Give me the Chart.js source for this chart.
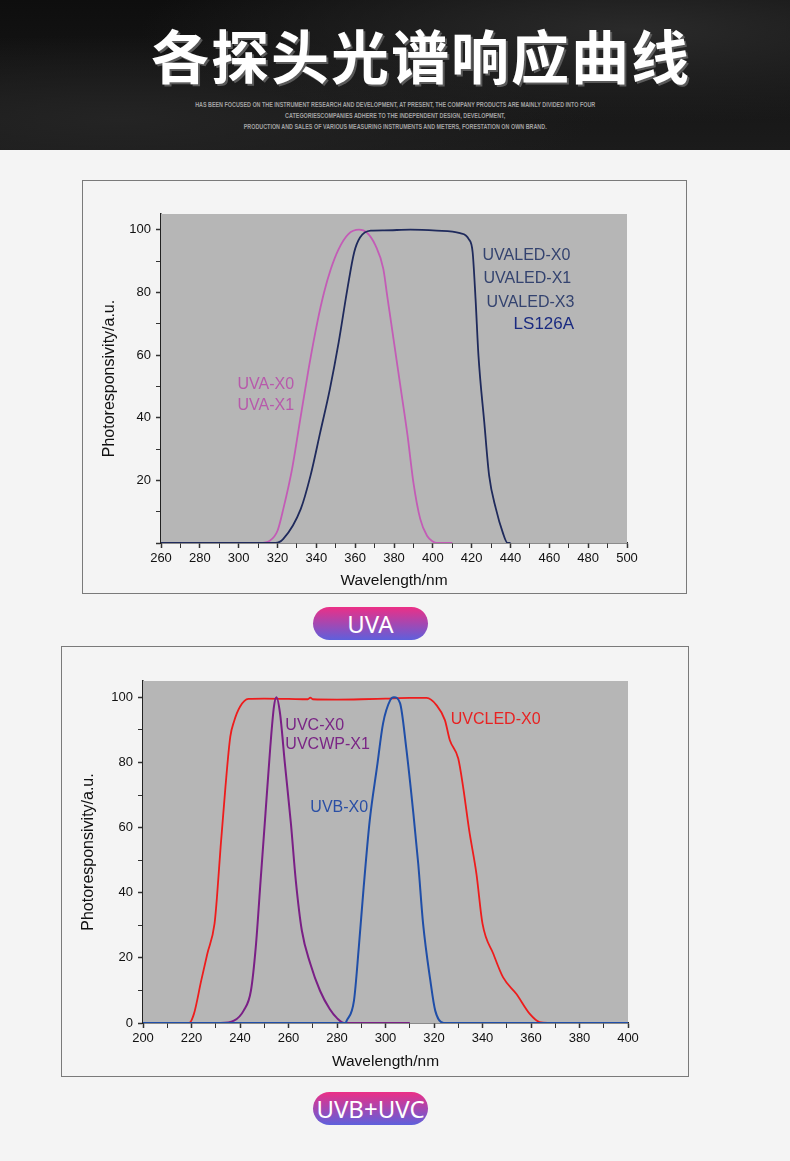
<!DOCTYPE html>
<html>
<head>
<meta charset="utf-8">
<script src="https://cdn.jsdelivr.net/npm/chart.js@4/dist/chart.umd.min.js"></script>
<style>
  body { margin: 0; width: 790px; height: 1161px; background: #f4f4f4; position: relative; overflow: hidden; font-family: "Liberation Sans", Arial, sans-serif; }
  #header { position: absolute; left: 0; top: 0; width: 790px; height: 150px;
    background: radial-gradient(ellipse at 80% 20%, #2a2a2a 0%, rgba(30,30,30,0) 55%),
                radial-gradient(ellipse at 15% 80%, #242424 0%, rgba(30,30,30,0) 50%),
                linear-gradient(#0e0e0e, #1b1b1b); }
  #title { position: absolute; left: 52px; right: 0; top: 24px; text-align: center; color: #fff;
    font-family: "Noto Sans CJK SC", sans-serif; font-weight: 700; font-size: 58px; line-height: 60px;
    letter-spacing: 2px; text-shadow: 2px 2px 0 #5a5a5a; }
  #sub { position: absolute; left: 0; width: 790px; top: 99px; text-align: center; color: #a2a2a2;
    font-family: "Liberation Sans", sans-serif; font-weight: 700;
    font-size: 6.5px; line-height: 11px; transform: scaleX(0.83); transform-origin: 396px 0; }
  .box { position: absolute; border: 1px solid #7a7a7a; background: #f4f4f4; }
  .box canvas { display: block; }
  .pill { position: absolute; left: 313px; width: 115px; height: 33px; border-radius: 17px;
    background: linear-gradient(#ec2f86, #5e60dc); color: #fff; text-align: center;
    font-family: "Noto Sans", sans-serif; font-size: 24px; line-height: 33px; }
</style>
</head>
<body>
<div id="header">
  <div id="title">各探头光谱响应曲线</div>
  <div id="sub">HAS BEEN FOCUSED ON THE INSTRUMENT RESEARCH AND DEVELOPMENT, AT PRESENT, THE COMPANY PRODUCTS ARE MAINLY DIVIDED INTO FOUR<br>CATEGORIESCOMPANIES ADHERE TO THE INDEPENDENT DESIGN, DEVELOPMENT,<br>PRODUCTION AND SALES OF VARIOUS MEASURING INSTRUMENTS AND METERS, FORESTATION ON OWN BRAND.</div>
</div>

<div class="box" style="left:82px; top:180px;"><canvas id="uvaChart" width="603" height="412"></canvas></div>
<div class="pill" style="top:607px;">UVA</div>

<div class="box" style="left:61px; top:646px;"><canvas id="uvcChart" width="626" height="429"></canvas></div>
<div class="pill" style="top:1092px;">UVB+UVC</div>

<script>
//UVA-X0 / UVA-X1 curve (wavelength nm, response a.u.)
var uvaWave = [306, 311, 316, 320, 323, 327.5, 332, 336, 340.5, 344, 347.5, 351.5, 356.5, 362, 366, 370.5, 374.5, 376.5, 380, 383.5, 387, 390, 393.5, 397, 400, 402, 410];
var uvaResp = [0, 0, 0.7, 3.9, 10.9, 23.6, 40.6, 55.5, 70.4, 80, 87.5, 93.8, 98.6, 100, 99.1, 94.9, 87.5, 78.9, 64, 49.2, 34.2, 19.3, 7.7, 2.3, 0.5, 0, 0];

//UVALED-X0 / X1 / X3 / LS126A curve
var ledWave = [260, 319, 323, 332, 337, 342, 347, 351.5, 356, 359.5, 362.5, 368, 375, 388.5, 402, 414, 418.5, 420.5, 422, 423.5, 426.5, 429, 432.5, 436, 438.5, 440];
var ledResp = [0, 0, 1.3, 10.9, 21.5, 35.3, 49.2, 64, 81.1, 92.8, 97.5, 99.7, 99.8, 100, 99.7, 98.9, 97, 92.8, 77.9, 59.8, 38.5, 21.5, 10.9, 3.4, 0, 0];

//UVCLED-X0 curve
var ledcWave = [216, 219, 221, 224, 226.5, 229.5, 230.5, 232, 234, 236, 237.5, 240, 243.5, 250, 260, 268, 269, 270, 280, 290, 300, 310, 317, 321, 324.5, 326.5, 330, 332, 334.5, 337.5, 340, 344.5, 348.5, 354, 359.5, 363.5, 368];
var ledcResp = [0, 0, 2.8, 13, 21.2, 30.5, 38.6, 54, 72.5, 87.9, 92.5, 97.1, 99.5, 99.6, 99.5, 99.4, 99.9, 99.4, 99.3, 99.4, 99.6, 99.8, 99.8, 97.6, 93, 86.9, 81.2, 72.5, 59.2, 45.8, 30.5, 21.2, 14, 8.9, 2.8, 0.3, 0];

//UVC-X0 / UVCWP-X1 curve
var uvcWave = [229, 232, 237.5, 241.5, 244.5, 246.5, 248.5, 250.5, 252.5, 254, 255, 256.5, 258.5, 261, 263, 265.5, 269, 273, 277, 280, 283, 310];
var uvcResp = [0, 0, 0.7, 3.8, 9.9, 23.3, 43.8, 64.3, 84.8, 97.1, 100, 95.1, 79.7, 61.2, 43.8, 28.4, 18.2, 9.9, 4.3, 1.5, 0, 0];

//UVB-X0 curve
var uvbWave = [200, 283.5, 284, 287, 289, 291, 293.5, 296.5, 299, 302, 303.5, 306, 308.5, 311.5, 313.5, 315.5, 318.5, 320.5, 324, 400];
var uvbResp = [0, 0, 0.7, 6.9, 23.3, 41.7, 62.2, 78.6, 92, 99.2, 100, 98.2, 84.8, 64.3, 48.9, 30.5, 13, 3.8, 0, 0];

//axis ranges and tick labels
var uvaRange = [260, 500];
var uvcRange = [200, 400];
var respRange = [0, 105];
var xTitle = 'Wavelength/nm';
var yTitle = 'Photoresponsivity/a.u.';

Chart.defaults.font.family = '"Liberation Sans", Arial, sans-serif';
Chart.defaults.color = '#111';

//zip two arrays into x/y points
function toPoints(xs, ys) {
	var pts = [];
	for (var i = 0; i < xs.length; i++) {
		pts.push({x: xs[i], y: ys[i]});
	}
	return pts;
}

//grey plot background and text labels inside the plot
var plotDecor = {
	id: 'plotDecor',
	beforeDatasetsDraw: function(chart) {
		var a = chart.chartArea, ctx = chart.ctx;
		ctx.save();
		ctx.fillStyle = '#b6b6b6';
		ctx.fillRect(a.left, a.top, a.right - a.left, a.bottom - a.top);
		ctx.restore();
	},
	afterDatasetsDraw: function(chart, args, opts) {
		var ctx = chart.ctx;
		var labels = opts.labels || [];
		ctx.save();
		ctx.textBaseline = 'middle';
		ctx.textAlign = 'left';
		for (var i = 0; i < labels.length; i++) {
			var l = labels[i];
			ctx.font = l.size + 'px "Liberation Sans", Arial, sans-serif';
			ctx.fillStyle = l.color;
			ctx.fillText(l.text, chart.scales.x.getPixelForValue(l.x), chart.scales.y.getPixelForValue(l.y));
		}
		ctx.restore();
	}
};

function lineSet(label, xs, ys, color, width) {
	return {
		label: label,
		data: toPoints(xs, ys),
		borderColor: color,
		borderWidth: width,
		pointRadius: 0,
		cubicInterpolationMode: 'monotone',
		fill: false
	};
}

function buildOptions(range, hideZero, sizes, labels) {
	return {
		responsive: false,
		animation: false,
		layout: {padding: {top: sizes.top, right: sizes.right, left: 0, bottom: 0}},
		plugins: {legend: {display: false}, tooltip: {enabled: false}, plotDecor: {labels: labels}},
		scales: {
			x: {
				type: 'linear', min: range[0], max: range[1],
				afterFit: function(s) { s.height = sizes.bottom; },
				border: {display: true, color: '#222', width: 1.5},
				grid: {drawOnChartArea: false, tickLength: 5, tickColor: '#333',
					tickWidth: function(c) { return c.tick && c.tick.value % 20 === 0 ? 1.5 : 1; }},
				ticks: {stepSize: 10, autoSkip: false, maxRotation: 0, includeBounds: false, padding: 3,
					font: {size: 13},
					callback: function(v) { return v % 20 === 0 ? v : ''; }},
				title: {display: true, text: xTitle, font: {size: 15.5}, color: '#111', padding: {top: 0, bottom: sizes.xTitlePad}}
			},
			y: {
				min: respRange[0], max: respRange[1],
				afterFit: function(s) { s.width = sizes.left; },
				border: {display: true, color: '#222', width: 1.5},
				grid: {drawOnChartArea: false, tickLength: 5, tickColor: '#333',
					tickWidth: function(c) { return c.tick && c.tick.value % 20 === 0 ? 1.5 : 1; }},
				ticks: {stepSize: 10, autoSkip: false, includeBounds: false, padding: 5,
					font: {size: 13},
					callback: function(v) {
						if (v % 20 !== 0) return '';
						if (hideZero && v === 0) return '';
						return v;
					}},
				title: {display: true, text: yTitle, font: {size: 16}, color: '#111', padding: {top: sizes.yTitlePad, bottom: 0}}
			}
		}
	};
}

//UVA chart
new Chart(document.getElementById('uvaChart').getContext('2d'), {
	type: 'line',
	data: {
		datasets: [
			lineSet('UVALED', ledWave, ledResp, '#1f2a5c', 1.8),
			lineSet('UVA', uvaWave, uvaResp, '#c35cb6', 1.8)
		]
	},
	options: buildOptions(uvaRange, true,
		{top: 33, right: 59, bottom: 50, left: 78, xTitlePad: 3, yTitlePad: 17},
		[
			{text: 'UVALED-X0', x: 425.6, y: 91.7, color: '#34436f', size: 16},
			{text: 'UVALED-X1', x: 426.1, y: 84.4, color: '#34436f', size: 16},
			{text: 'UVALED-X3', x: 427.7, y: 76.7, color: '#34436f', size: 16},
			{text: 'LS126A', x: 441.6, y: 69.7, color: '#1a2a80', size: 17},
			{text: 'UVA-X0', x: 299.4, y: 50.5, color: '#b75aab', size: 16},
			{text: 'UVA-X1', x: 299.4, y: 43.8, color: '#b75aab', size: 16}
		]),
	plugins: [plotDecor]
});

//UVB + UVC chart
new Chart(document.getElementById('uvcChart').getContext('2d'), {
	type: 'line',
	data: {
		datasets: [
			lineSet('UVB', uvbWave, uvbResp, '#1f4ea8', 2),
			lineSet('UVC', uvcWave, uvcResp, '#7a1f86', 2),
			lineSet('UVCLED', ledcWave, ledcResp, '#ee1c1c', 1.8)
		]
	},
	options: buildOptions(uvcRange, false,
		{top: 34, right: 60, bottom: 53, left: 81, xTitlePad: 5, yTitlePad: 17},
		[
			{text: 'UVCLED-X0', x: 326.9, y: 93.3, color: '#e82222', size: 16},
			{text: 'UVC-X0', x: 258.7, y: 91.2, color: '#7a2585', size: 16},
			{text: 'UVCWP-X1', x: 258.7, y: 85.6, color: '#7a2585', size: 16},
			{text: 'UVB-X0', x: 269, y: 66.2, color: '#2a4fa5', size: 16}
		]),
	plugins: [plotDecor]
});
</script>
</body>
</html>
